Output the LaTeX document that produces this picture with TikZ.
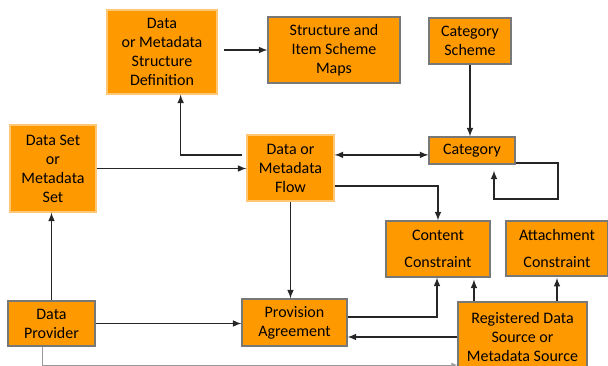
\documentclass[tikz,border=0pt]{standalone}
\usepackage{fontspec}
\setmainfont{Carlito}
\usetikzlibrary{arrows.meta}
\definecolor{boxorange}{RGB}{255,153,0}
\definecolor{boxedge}{RGB}{120,120,120}

\begin{document}
\begin{tikzpicture}[x=0.75pt,y=-0.75pt,
  box/.style={fill=boxorange,draw=boxedge,line width=0.8pt,align=center,inner sep=0pt,font=\fontsize{12}{14.3}\selectfont},
  softbox/.style={box,draw=boxorange!55!white},
  arr/.style={->,>=latex,line width=1.2pt,black!85},
  thinarr/.style={->,>=latex,line width=0.6pt,black!40}]
\useasboundingbox (0,0) rectangle (608,366);
\node[softbox,minimum width=82.5pt,minimum height=63pt] (dsd) at (162,52) {Data\\or Metadata\\Structure\\Definition};
\node[box,minimum width=99pt,minimum height=49.5pt] (maps) at (334,50) {Structure and\\Item Scheme\\Maps};
\node[box,minimum width=61.5pt,minimum height=34.5pt] (catscheme) at (470,41) {Category\\Scheme};
\node[box,minimum width=64.5pt,minimum height=20.25pt] (cat) at (472,150.5) {Category};
\node[softbox,minimum width=64.5pt,minimum height=65.25pt] (dataset) at (53,168.5) {Data Set\\or\\Metadata\\Set};
\node[softbox,minimum width=65.25pt,minimum height=49.5pt] (flow) at (290.5,168) {Data or\\Metadata\\Flow};
\node[box,minimum width=78pt,minimum height=42pt] (content) at (438,249) {Content\\[6.5pt]Constraint};
\node[box,minimum width=76.5pt,minimum height=41.25pt] (attach) at (557,248.5) {Attachment\\[6.5pt]Constraint};
\node[box,minimum width=65.25pt,minimum height=33.75pt] (provider) at (51.5,323.5) {Data\\Provider};
\node[box,minimum width=78.75pt,minimum height=35.25pt] (provision) at (294.5,322.5) {Provision\\Agreement};
\node[box,minimum width=96.75pt,minimum height=52.5pt] (regsrc) at (522.5,337) {Registered Data\\Source or\\Metadata Source};
\coordinate (r1) at ([xshift=-36.4pt]regsrc.north);
\coordinate (r2) at ([xshift=-6.5pt]provider.south);
\draw[arr] ([xshift=5pt]maps.west -| dsd.east) -- (maps.west);
\draw[arr] ([xshift=-3pt,yshift=9.75pt]flow.west) -| ([xshift=14pt]dsd.south);
\draw[arr] (dataset.east) -- (flow.west |- dataset.east);
\draw[arr,<->] ([yshift=-3.3pt]cat.west -| flow.east) -- ([yshift=-3.3pt]cat.west);
\draw[arr] (catscheme.south) -- (catscheme.south |- cat.north);
\draw[arr] ([yshift=1pt]cat.south east) -- ++(32pt,0) -- ++(0,-27pt) -| ([xshift=16.5pt,yshift=-4.5pt]cat.south);
\draw[arr] ([yshift=-13.5pt]flow.east) -| (content.north);
\draw[arr] (flow.south) -- (flow.south |- provision.north);
\draw[arr] (provider.north) -- (provider.north |- dataset.south);
\draw[arr] (provider.east) -- (provision.west |- provider.east);
\draw[arr] ([yshift=4pt]provision.east) -| ([xshift=-0.75pt]content.south);
\draw[arr] (regsrc.west) -- (provision.east |- regsrc.west);
\draw[arr] (r1) -- ([yshift=-1.5pt]r1 |- content.south);
\draw[arr] (attach.south |- regsrc.north) -- ([yshift=-1pt]attach.south);
\draw[thinarr] (r2) |- ([yshift=-21pt]regsrc.west);
\end{tikzpicture}
\end{document}
